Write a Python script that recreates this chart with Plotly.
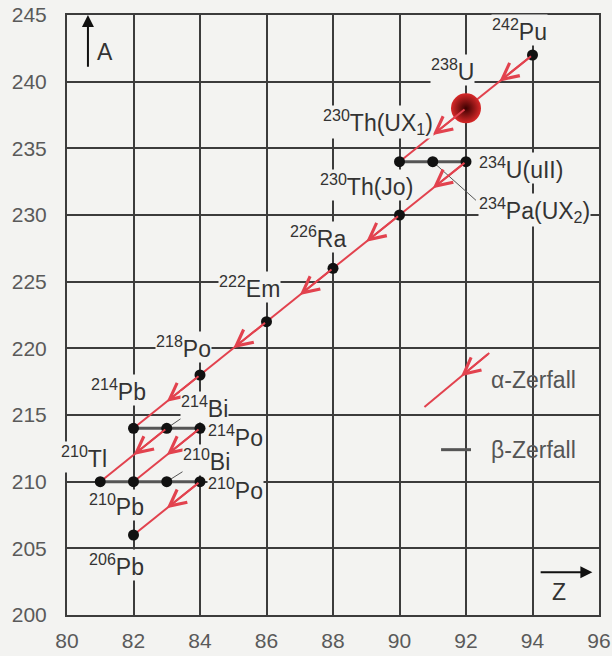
import plotly.graph_objects as go

# ---- data -------------------------------------------------------------
Z = [94, 92, 90, 91, 92, 90, 88, 86, 84, 82, 83, 84, 81, 82, 83, 84, 82]
A = [242, 238, 234, 234, 234, 230, 226, 222, 218, 214, 214, 214, 210, 210, 210, 210, 206]
names = [
    "<sup>242</sup>Pu", "<sup>238</sup>U", "<sup>230</sup>Th(UX<sub>1</sub>)",
    "<sup>234</sup>Pa(UX<sub>2</sub>)", "<sup>234</sup>U(uII)", "<sup>230</sup>Th(Jo)",
    "<sup>226</sup>Ra", "<sup>222</sup>Em", "<sup>218</sup>Po", "<sup>214</sup>Pb",
    "<sup>214</sup>Bi", "<sup>214</sup>Po", "<sup>210</sup>Tl", "<sup>210</sup>Pb",
    "<sup>210</sup>Bi", "<sup>210</sup>Po", "<sup>206</sup>Pb",
]
alpha_pairs = [(0, 1), (1, 2), (4, 5), (5, 6), (6, 7), (7, 8), (8, 9), (10, 12), (11, 13), (15, 16)]
beta_chains = [(2, 3, 4), (9, 10, 11), (12, 13, 14, 15)]
x_ticks = [80, 82, 84, 86, 88, 90, 92, 94, 96]
y_ticks = [200, 205, 210, 215, 220, 225, 230, 235, 240, 245]

# ---- label placement (dx, dy offsets from nuclide, anchor) --------------
label_place = [
    (-0.4, 1.9, "center"), (-0.4, 2.9, "center"), (1.05, 3.0, "right"),
    (1.35, -3.6, "left"), (0.35, -0.5, "left"), (0.45, 2.25, "right"),
    (-0.45, 2.35, "center"), (-0.5, 2.6, "center"), (-0.5, 2.1, "center"),
    (-0.45, 2.9, "center"), (0.4, 1.6, "left"), (0.2, -0.6, "left"),
    (-0.5, 1.85, "center"), (-0.5, -1.75, "center"), (0.45, 1.65, "left"),
    (0.2, -0.55, "left"), (-0.5, -2.25, "center"),
]
leaders = [(3, 1.3, -2.9), (10, 0.7, 1.2), (14, 0.7, 1.1)]

BG = "#f3f3f1"
RED = "#e2424e"
GRID = "#3c3c3c"
TXT = "#333333"
FONT = "Liberation Sans, Arial, sans-serif"
LBL = 23

fig = go.Figure()

# alpha decays
for i, j in alpha_pairs:
    fig.add_trace(go.Scatter(x=[Z[i], Z[j]], y=[A[i], A[j]], mode="lines",
                             line=dict(color=RED, width=2), hoverinfo="skip", showlegend=False))
    fig.add_annotation(x=(Z[i] + Z[j]) / 2, y=(A[i] + A[j]) / 2, ax=Z[i], ay=A[i],
                       xref="x", yref="y", axref="x", ayref="y", text="", showarrow=True,
                       arrowhead=5, arrowsize=1.6, arrowwidth=2, arrowcolor=RED)

# beta decays
for chain in beta_chains:
    fig.add_trace(go.Scatter(x=[Z[k] for k in chain], y=[A[k] for k in chain], mode="lines",
                             line=dict(color="#555555", width=3), hoverinfo="skip", showlegend=False))

# leader lines
for k, dx, dy in leaders:
    fig.add_trace(go.Scatter(x=[Z[k], Z[k] + dx], y=[A[k], A[k] + dy], mode="lines",
                             line=dict(color="#555555", width=1), hoverinfo="skip", showlegend=False))

# labels
for k, (dx, dy, anc) in enumerate(label_place):
    fig.add_annotation(x=Z[k] + dx, y=A[k] + dy, text=names[k], showarrow=False,
                       xanchor=anc, yanchor="middle", bgcolor=BG, borderpad=0,
                       font=dict(size=LBL, color=TXT, family=FONT))

# nuclides
fig.add_trace(go.Scatter(x=[Z[k] for k in range(len(Z)) if k != 1],
                         y=[A[k] for k in range(len(A)) if k != 1], mode="markers",
                         marker=dict(color="#111111", size=11), hoverinfo="skip", showlegend=False))
fig.add_trace(go.Scatter(x=[Z[1]], y=[A[1]], mode="markers",
                         marker=dict(color="#d82828", size=30, line=dict(width=0),
                                     gradient=dict(type="radial", color="#3a0000")),
                         hoverinfo="skip", showlegend=False))

# legend (drawn in plot)
fig.add_trace(go.Scatter(x=[90.75, 92.7], y=[215.6, 219.65], mode="lines",
                         line=dict(color=RED, width=2), hoverinfo="skip", showlegend=False))
fig.add_annotation(x=91.85, y=217.9, ax=92.7, ay=219.65, xref="x", yref="y", axref="x", ayref="y",
                   text="", showarrow=True, arrowhead=5, arrowsize=1.6, arrowwidth=2, arrowcolor=RED)
fig.add_annotation(x=92.7, y=217.6, text="α-Zerfall", showarrow=False, xanchor="left",
                   font=dict(size=LBL, color="#555555", family=FONT))
fig.add_trace(go.Scatter(x=[91.25, 92.15], y=[212.4, 212.4], mode="lines",
                         line=dict(color="#555555", width=3), hoverinfo="skip", showlegend=False))
fig.add_annotation(x=92.7, y=212.4, text="β-Zerfall", showarrow=False, xanchor="left",
                   font=dict(size=LBL, color="#555555", family=FONT))

# axis arrows
fig.add_annotation(x=80.63, y=245.0, ax=80.63, ay=241.0, xref="x", yref="y", axref="x", ayref="y",
                   text="", showarrow=True, arrowhead=2, arrowsize=1.2, arrowwidth=2, arrowcolor="#111111")
fig.add_annotation(x=81.15, y=242.2, text="A", showarrow=False,
                   font=dict(size=LBL, color=TXT, family=FONT))
fig.add_annotation(x=95.8, y=203.2, ax=94.2, ay=203.2, xref="x", yref="y", axref="x", ayref="y",
                   text="", showarrow=True, arrowhead=2, arrowsize=1.2, arrowwidth=2, arrowcolor="#111111")
fig.add_annotation(x=94.8, y=201.7, text="Z", showarrow=False,
                   font=dict(size=LBL, color=TXT, family=FONT))

fig.update_xaxes(range=[80, 96], tickvals=x_ticks, showgrid=True, gridcolor=GRID, gridwidth=1.5,
                 zeroline=False, showline=True, linecolor=GRID, linewidth=2, mirror=True,
                 ticks="", ticklabelstandoff=6, automargin=False,
                 tickfont=dict(size=21, color="#5a5a5a", family=FONT))
fig.update_yaxes(range=[200, 245], tickvals=y_ticks, showgrid=True, gridcolor=GRID, gridwidth=1.5,
                 zeroline=False, showline=True, linecolor=GRID, linewidth=2, mirror=True,
                 ticks="", ticklabelstandoff=14, automargin=False,
                 tickfont=dict(size=21, color="#5a5a5a", family=FONT))
fig.update_layout(width=612, height=656, margin=dict(l=67, r=13, t=15, b=41, autoexpand=False),
                  paper_bgcolor=BG, plot_bgcolor=BG, showlegend=False)

fig.write_html("out.html", config={"displayModeBar": False},
               post_script="document.body.style.margin='0';document.body.style.background='%s';" % BG)
